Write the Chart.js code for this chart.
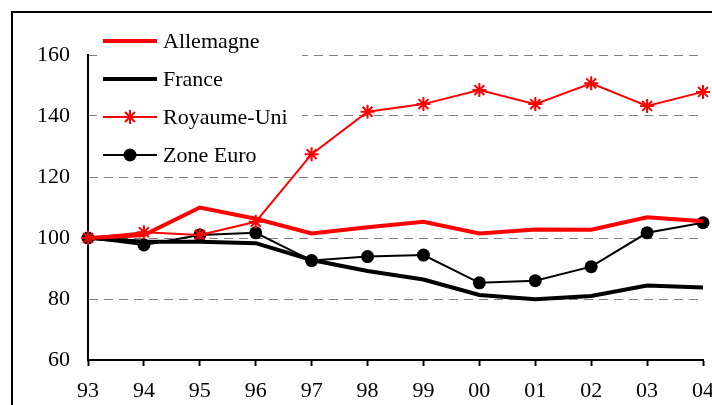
<!DOCTYPE html>
<html>
<head>
<meta charset="utf-8">
<script src="https://cdn.jsdelivr.net/npm/chart.js@4/dist/chart.umd.min.js"></script>
<style>
  html, body { margin: 0; padding: 0; background: #fff; }
  #boite { width: 712px; height: 405px; }
</style>
</head>
<body>
<div id="boite"><canvas id="graphique" width="712" height="405"></canvas></div>
<script>
// donnees (indice, 1993 = 100)
var annees = ['93', '94', '95', '96', '97', '98', '99', '00', '01', '02', '03', '04'];
var allemagne = [100, 101, 110, 106.3, 101.5, 103.5, 105.3, 101.5, 102.8, 102.7, 106.8, 105.5];
var france = [100, 98.8, 98.8, 98.3, 92.8, 89.2, 86.4, 81.3, 79.9, 81, 84.4, 83.8];
var royaumeUni = [100, 101.9, 101, 105.3, 127.5, 141.4, 143.9, 148.5, 143.9, 150.7, 143.3, 147.9];
var zoneEuro = [100, 97.7, 101, 101.7, 92.6, 93.9, 94.4, 85.3, 86, 90.6, 101.7, 105];
var graduations = [60, 80, 100, 120, 140, 160];

var police = '"Liberation Serif", "Times New Roman", serif';

/* cadre + legende dessinee a la main */
var cadre = {
  id: 'cadre',
  beforeDraw: function (chart) {
    var ctx = chart.ctx;
    ctx.save();
    ctx.fillStyle = '#fff';
    ctx.fillRect(0, 0, chart.width, chart.height);
    ctx.strokeStyle = '#000';
    ctx.lineWidth = 2;
    ctx.strokeRect(12, 12, chart.width + 60, chart.height + 60);
    ctx.restore();
  },
  beforeDatasetsDraw: function (chart) {
    // fond blanc de la legende (cache les pointilles)
    var ctx = chart.ctx;
    ctx.save();
    ctx.fillStyle = '#fff';
    ctx.fillRect(97, 22, 205, 146);
    ctx.restore();
  },
  afterDatasetsDraw: function (chart) {
    var ctx = chart.ctx;
    var series = chart.data.datasets;
    for (var i = 0; i < series.length; i++) {
      var s = series[i];
      var y = 41 + i * 38;
      ctx.save();
      ctx.strokeStyle = s.borderColor;
      ctx.lineWidth = s.borderWidth;
      ctx.beginPath();
      ctx.moveTo(103, y);
      ctx.lineTo(157, y);
      ctx.stroke();
      if (s.pointRadius > 0) {
        ctx.fillStyle = s.pointBackgroundColor;
        ctx.strokeStyle = s.pointBorderColor;
        Chart.helpers.drawPoint(ctx, {
          pointStyle: s.pointStyle,
          radius: s.pointRadius,
          rotation: 0,
          borderWidth: s.pointBorderWidth
        }, 130, y);
      }
      ctx.fillStyle = '#000';
      ctx.font = '22px ' + police;
      ctx.textBaseline = 'middle';
      ctx.textAlign = 'left';
      ctx.fillText(s.label, 163, y + 1);
      ctx.restore();
    }
  }
};

var ctx = document.getElementById('graphique');
var monGraphique = new Chart(ctx, {
  type: 'line',
  data: {
    labels: annees,
    datasets: [{
      label: 'Allemagne',
      data: allemagne,
      borderColor: '#ff0000',
      borderWidth: 4,
      pointRadius: 0
    }, {
      label: 'France',
      data: france,
      borderColor: '#000000',
      borderWidth: 4,
      pointRadius: 0
    }, {
      label: 'Royaume-Uni',
      data: royaumeUni,
      borderColor: '#ff0000',
      borderWidth: 2,
      pointStyle: 'star',
      pointRadius: 7,
      pointBorderWidth: 2,
      pointBorderColor: '#ff0000',
      pointBackgroundColor: '#ff0000'
    }, {
      label: 'Zone Euro',
      data: zoneEuro,
      borderColor: '#000000',
      borderWidth: 2,
      pointStyle: 'circle',
      pointRadius: 6.5,
      pointBorderWidth: 0,
      pointBorderColor: '#000000',
      pointBackgroundColor: '#000000'
    }]
  },
  options: {
    responsive: false,
    animation: false,
    devicePixelRatio: 1,
    layout: { padding: { top: 55, right: 9, left: 0, bottom: 0 } },
    elements: { line: { tension: 0 } },
    datasets: { line: { clip: false } },
    plugins: {
      legend: { display: false },
      tooltip: { enabled: false }
    },
    scales: {
      x: {
        grid: {
          drawOnChartArea: false,
          drawTicks: true,
          tickLength: 6,
          tickColor: '#000',
          tickWidth: 2
        },
        border: { display: true, color: '#000', width: 2 },
        ticks: {
          color: '#000',
          font: { family: police, size: 22 },
          padding: 12,
          maxRotation: 0,
          autoSkip: false
        },
        afterFit: function (scale) {
          scale.height = 45;
          scale.paddingLeft = 0;
          scale.paddingRight = 0;
        }
      },
      y: {
        min: 60,
        max: 160,
        afterBuildTicks: function (scale) {
          scale.ticks = graduations.map(function (v) { return { value: v }; });
        },
        grid: {
          color: '#808080',
          lineWidth: 1,
          drawTicks: false
        },
        border: { display: true, color: '#000', width: 2, dash: [9, 6] },
        ticks: {
          color: '#000',
          font: { family: police, size: 22 },
          padding: 18
        },
        afterFit: function (scale) {
          scale.width = 88;
        }
      }
    }
  },
  plugins: [cadre]
});
</script>
</body>
</html>
